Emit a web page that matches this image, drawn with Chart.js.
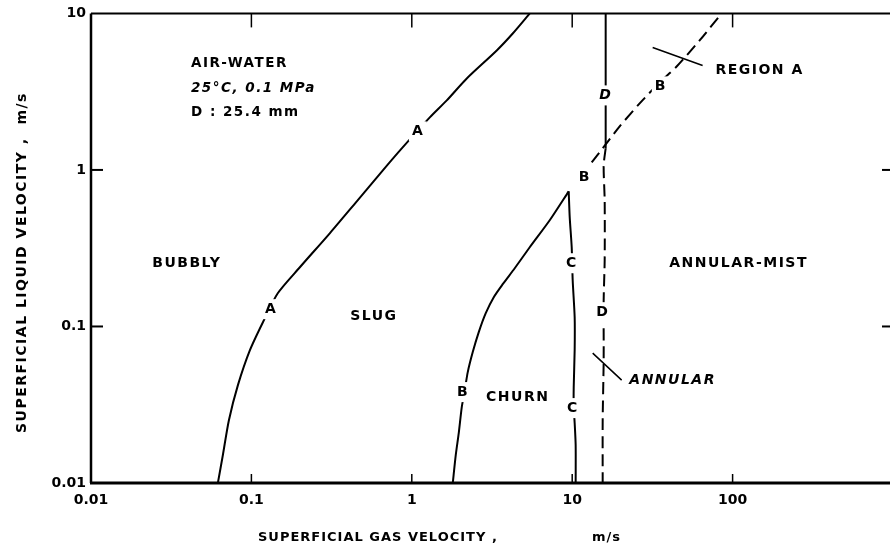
<!DOCTYPE html>
<html>
<head>
<meta charset="utf-8">
<script src="https://cdn.jsdelivr.net/npm/chart.js@4.4.0/dist/chart.umd.min.js"></script>
<style>
    html, body { margin: 0; padding: 0; background: #fff; width: 890px; height: 553px; overflow: hidden; }
    #flowMap { display: block; }
</style>
</head>
<body>
<canvas id="flowMap" width="900" height="553"></canvas>
<script>
// --- Axes ---
const xTickValues = [0.01, 0.1, 1, 10, 100];
const xTickLabels = ['0.01', '0.1', '1', '10', '100'];
const yTickValues = [0.01, 0.1, 1, 10];
const yTickLabels = ['0.01', '0.1', '1', '10'];

// --- Transition boundaries (gas velocity, liquid velocity) ---
// A: bubbly -> slug
const boundaryAGas = [0.0618, 0.0664, 0.0724, 0.0824, 0.0979, 0.118, 0.146, 0.2005, 0.308, 0.454, 0.660, 0.866, 1.295, 1.652, 2.201, 3.385, 4.259, 5.44];
const boundaryALiq = [0.01, 0.0151, 0.0252, 0.0422, 0.0706, 0.1065, 0.163, 0.2389, 0.3938, 0.6304, 0.994, 1.373, 2.166, 2.781, 3.841, 5.798, 7.44, 10];
// B: slug -> churn (solid part)
const boundaryBGas = [1.801, 1.880, 1.963, 2.049, 2.139, 2.233, 2.399, 2.615, 2.891, 3.243, 3.690, 4.382, 5.435, 7.242, 9.51];
const boundaryBLiq = [0.01, 0.0151, 0.0209, 0.0305, 0.0392, 0.0511, 0.0686, 0.0920, 0.1216, 0.1538, 0.1862, 0.2355, 0.3207, 0.477, 0.730];
// B: slug -> annular-mist (dashed part)
const boundaryBDashGas = [13.23, 15.49, 19.77, 26.34, 35.09, 44.78, 62.29, 85.4];
const boundaryBDashLiq = [1.118, 1.373, 1.897, 2.661, 3.622, 4.582, 6.716, 10];
// C: churn -> annular
const boundaryCGas = [9.51, 9.65, 9.93, 10.07, 10.36, 10.36, 10.22, 10.22, 10.36, 10.51, 10.51];
const boundaryCLiq = [0.730, 0.498, 0.3207, 0.1974, 0.1147, 0.0706, 0.0410, 0.0305, 0.02415, 0.01748, 0.01];
// D: annular -> annular-mist
const boundaryDGas = [16.17, 16.17];
const boundaryDLiq = [10, 1.373];
const boundaryDDashGas = [16.17, 15.71, 15.94, 15.94, 15.71, 15.71, 15.49, 15.49];
const boundaryDDashLiq = [1.373, 1.070, 0.640, 0.265, 0.1472, 0.0609, 0.02523, 0.01];

// Pointer strokes for the callouts
const regionAPointerGas = [31.74, 65.03];
const regionAPointerLiq = [6.06, 4.651];
const annularPointerGas = [13.42, 20.34];
const annularPointerLiq = [0.0676, 0.0454];

// --- Text placed in data coordinates ---
const regionNames = ['BUBBLY', 'SLUG', 'CHURN', 'ANNULAR-MIST'];
const regionGas = [0.0396, 0.580, 4.576, 109.0];
const regionLiq = [0.2535, 0.1163, 0.0354, 0.2535];

const curveTags = ['A', 'A', 'B', 'B', 'B', 'C', 'C', 'D', 'D'];
const curveTagGas = [0.1323, 1.090, 2.078, 11.96, 35.6, 9.93, 10.07, 16.17, 15.49];
const curveTagLiq = [0.129, 1.763, 0.0381, 0.897, 3.417, 0.2535, 0.0301, 2.993, 0.1234];
const curveTagItalic = [false, false, false, false, false, false, false, true, false];

const calloutNames = ['REGION A', 'ANNULAR'];
const calloutGas = [147.3, 42.29];
const calloutLiq = [4.32, 0.0454];
const calloutItalic = [false, true];

const conditionLines = ['AIR-WATER', '25°C, 0.1 MPa', 'D : 25.4 mm'];
const conditionGas = 0.042;
const conditionLiq = [4.79, 3.317, 2.332];
const conditionItalic = [false, true, false];

const FONT = '"DejaVu Sans", "Liberation Sans", sans-serif';

function toPoints(xs, ys) {
    return xs.map((x, i) => ({ x: x, y: ys[i] }));
}

function lineSet(xs, ys, dashed, width) {
    return {
        data: toPoints(xs, ys),
        showLine: true,
        borderColor: '#000',
        borderWidth: width || 2,
        borderDash: dashed ? [12, 6] : [],
        pointRadius: 0,
        tension: 0.25,
        fill: false
    };
}

function setFont(ctx, size, italic) {
    ctx.font = `${italic ? 'italic ' : ''}bold ${size}px ${FONT}`;
}

// Axis box with inward tick marks on all four sides
const frameBox = {
    id: 'frameBox',
    afterDatasetsDraw(chart) {
        const { ctx, chartArea: a, scales: { x, y } } = chart;
        ctx.save();
        ctx.strokeStyle = '#000';
        ctx.lineCap = 'butt';

        ctx.lineWidth = 3;
        ctx.beginPath(); ctx.moveTo(a.left - 1, a.bottom); ctx.lineTo(a.right, a.bottom); ctx.stroke();
        ctx.lineWidth = 2.5;
        ctx.beginPath(); ctx.moveTo(a.left, a.top); ctx.lineTo(a.left, a.bottom); ctx.stroke();
        ctx.lineWidth = 2;
        ctx.beginPath(); ctx.moveTo(a.left, a.top); ctx.lineTo(a.right, a.top); ctx.lineTo(a.right, a.bottom); ctx.stroke();

        ctx.lineWidth = 1.5;
        xTickValues.slice(1).forEach(v => {
            const px = x.getPixelForValue(v);
            ctx.beginPath(); ctx.moveTo(px, a.top); ctx.lineTo(px, a.top + 14); ctx.stroke();
            ctx.beginPath(); ctx.moveTo(px, a.bottom); ctx.lineTo(px, a.bottom - 9); ctx.stroke();
        });
        ctx.lineWidth = 2;
        yTickValues.slice(1, -1).forEach(v => {
            const py = y.getPixelForValue(v);
            ctx.beginPath(); ctx.moveTo(a.left, py); ctx.lineTo(a.left + 12, py); ctx.stroke();
            ctx.beginPath(); ctx.moveTo(a.right, py); ctx.lineTo(a.right - 11, py); ctx.stroke();
        });
        ctx.restore();
    }
};

// Region names, curve letters, callouts, test conditions and axis titles
const mapText = {
    id: 'mapText',
    afterDatasetsDraw(chart) {
        const { ctx, chartArea: a, scales: { x, y } } = chart;
        ctx.save();
        ctx.fillStyle = '#000';
        ctx.textBaseline = 'middle';
        ctx.letterSpacing = '1.5px';

        const put = (text, gx, ly, size, italic, mask) => {
            const px = x.getPixelForValue(gx);
            const py = y.getPixelForValue(ly);
            setFont(ctx, size, italic);
            if (mask) {
                const w = ctx.measureText(text).width;
                ctx.fillStyle = '#fff';
                ctx.fillRect(px - w / 2 - 3, py - size / 2 - 3, w + 6, size + 6);
                ctx.fillStyle = '#000';
            }
            ctx.textAlign = 'center';
            ctx.fillText(text, px, py);
        };

        regionNames.forEach((t, i) => put(t, regionGas[i], regionLiq[i], 14, false, false));
        calloutNames.forEach((t, i) => put(t, calloutGas[i], calloutLiq[i], 14, calloutItalic[i], false));
        ctx.letterSpacing = '1px';
        curveTags.forEach((t, i) => put(t, curveTagGas[i], curveTagLiq[i], 14, curveTagItalic[i], true));

        ctx.textAlign = 'left';
        ctx.letterSpacing = '1.5px';
        conditionLines.forEach((t, i) => {
            setFont(ctx, 13.5, conditionItalic[i]);
            ctx.fillText(t, x.getPixelForValue(conditionGas), y.getPixelForValue(conditionLiq[i]));
        });

        // axis titles
        ctx.letterSpacing = '1px';
        setFont(ctx, 13, false);
        ctx.fillText('SUPERFICIAL GAS VELOCITY ,', a.left + 167, a.bottom + 55);
        ctx.fillText('m/s', a.left + 501, a.bottom + 55);

        ctx.letterSpacing = '1.5px';
        setFont(ctx, 14, false);
        ctx.translate(a.left - 69, a.bottom - 50);
        ctx.rotate(-Math.PI / 2);
        ctx.fillText('SUPERFICIAL LIQUID VELOCITY ,  m/s', 0, 0);
        ctx.restore();
    }
};

const datasets = [
    lineSet(boundaryAGas, boundaryALiq, false),
    lineSet(boundaryBGas, boundaryBLiq, false),
    lineSet(boundaryCGas, boundaryCLiq, false),
    lineSet(boundaryDGas, boundaryDLiq, false),
    lineSet(boundaryBDashGas, boundaryBDashLiq, true),
    lineSet(boundaryDDashGas, boundaryDDashLiq, true),
    lineSet(regionAPointerGas, regionAPointerLiq, false, 1.5),
    lineSet(annularPointerGas, annularPointerLiq, false, 1.5)
];

new Chart(document.getElementById('flowMap'), {
    type: 'scatter',
    data: { datasets: datasets },
    options: {
        responsive: false,
        animation: false,
        devicePixelRatio: 1,
        layout: { padding: { top: 13, right: 7, left: 0, bottom: 0 } },
        plugins: { legend: { display: false }, tooltip: { enabled: false } },
        scales: {
            x: {
                type: 'logarithmic',
                min: 0.01,
                max: 1000,
                grid: { display: false, drawTicks: false },
                border: { display: false },
                afterBuildTicks: (scale) => { scale.ticks = xTickValues.map(v => ({ value: v })); },
                afterFit: (scale) => { scale.height = 70; },
                ticks: {
                    padding: 9,
                    maxRotation: 0,
                    autoSkip: false,
                    color: '#000',
                    font: { family: FONT, weight: 'bold', size: 14 },
                    callback: (value) => xTickLabels[xTickValues.indexOf(value)]
                }
            },
            y: {
                type: 'logarithmic',
                min: 0.01,
                max: 10,
                grid: { display: false, drawTicks: false },
                border: { display: false },
                afterBuildTicks: (scale) => { scale.ticks = yTickValues.map(v => ({ value: v })); },
                afterFit: (scale) => { scale.width = 91; },
                ticks: {
                    padding: 5,
                    autoSkip: false,
                    color: '#000',
                    font: { family: FONT, weight: 'bold', size: 14 },
                    callback: (value) => yTickLabels[yTickValues.indexOf(value)]
                }
            }
        }
    },
    plugins: [frameBox, mapText]
});
</script>
</body>
</html>
